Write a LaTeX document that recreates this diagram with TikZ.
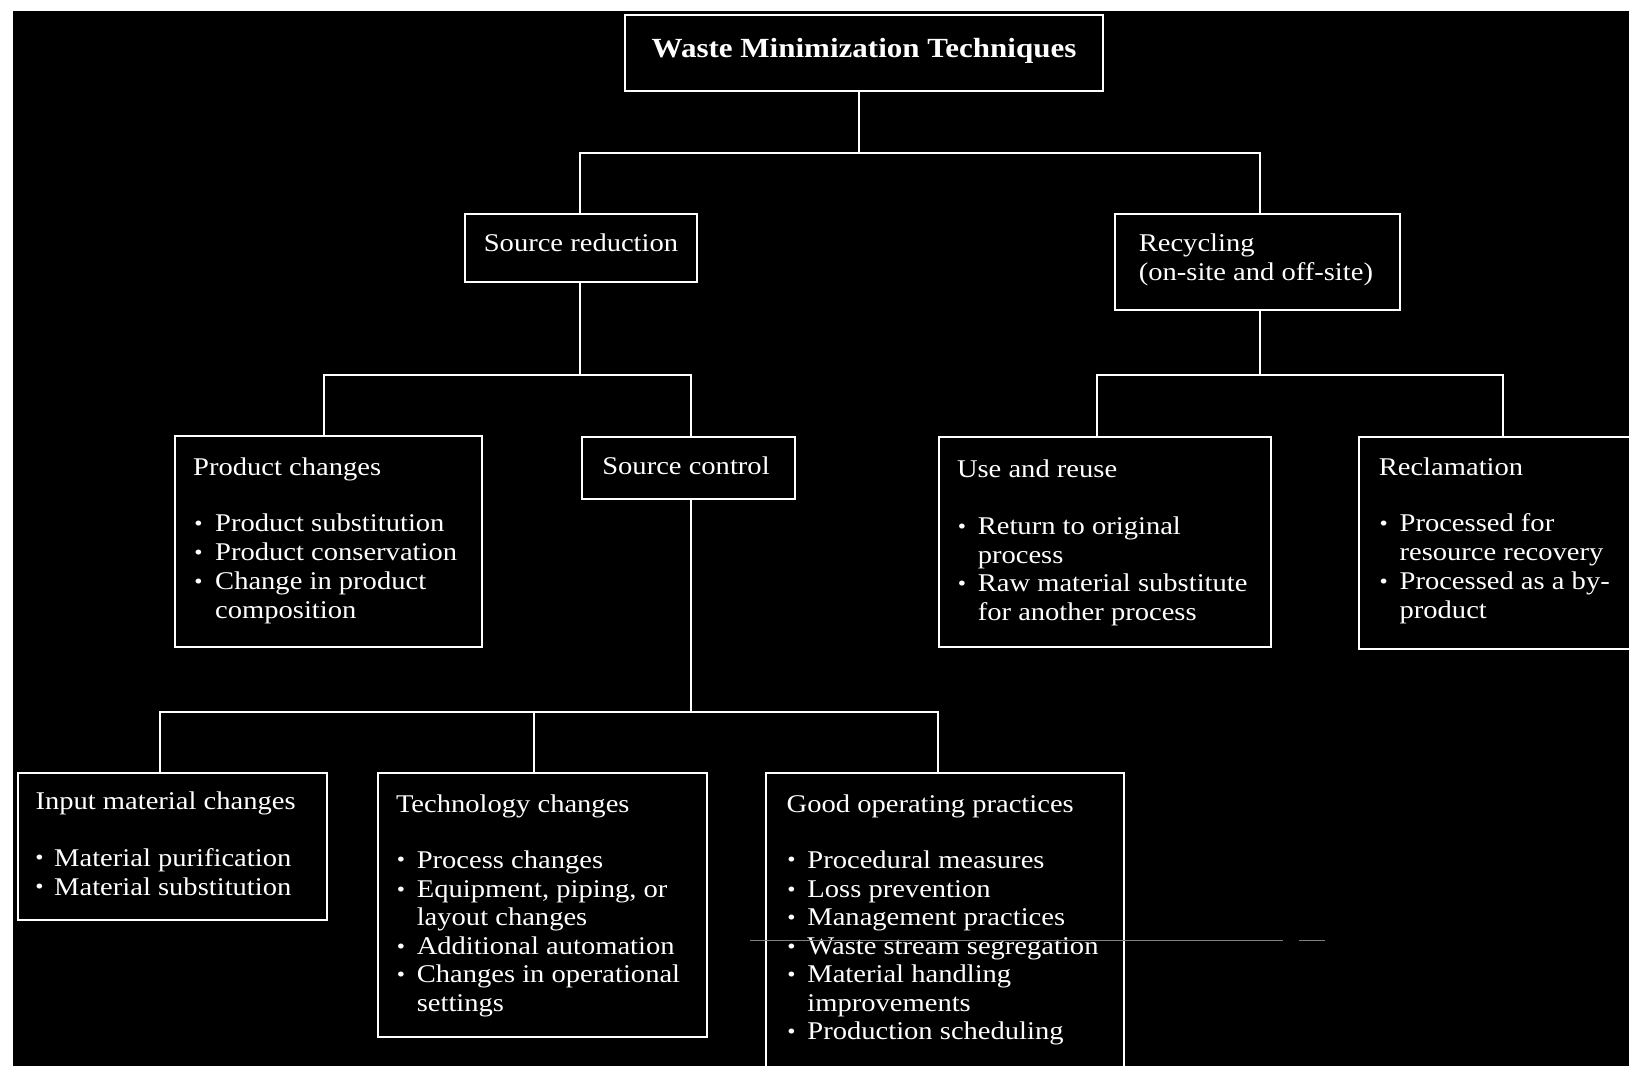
\documentclass[tikz,border=0pt]{standalone}
\usepackage{fontspec}
\setmainfont{Liberation Serif}[FakeStretch=1.12]
\begin{document}
\begin{tikzpicture}[x=1pt,y=-1pt,
  box/.style={draw=white, line width=2pt, fill=black, inner sep=0pt, anchor=north west},
  link/.style={draw=white, line width=2pt},
  lbl/.style={text=white, inner sep=0pt, anchor=west, yshift=-3pt, font=\fontsize{25.5}{29}\selectfont, text height=18pt, text depth=6pt},
  ttl/.style={text=white, inner sep=0pt, anchor=center, yshift=-4pt, font=\fontsize{27.7}{30}\selectfont\bfseries, text height=18pt, text depth=6pt},
  bul/.style={text=white, inner sep=0pt, anchor=center, yshift=-3pt, font=\fontsize{21}{21}\selectfont}]
\clip (0,0) rectangle (1629,1065);
\fill[white] (0,0) rectangle (1629,1065);
\fill[black] (13,11) rectangle (1640,1080);
% boxes
\node[box, minimum width=478pt, minimum height=76pt] (top) at (624,14) {};
\node[box, minimum width=232pt, minimum height=68pt] (sr) at (464,213) {};
\node[box, minimum width=285pt, minimum height=96pt] (rec) at (1114,213) {};
\node[box, minimum width=307pt, minimum height=211pt] (pc) at (174,435) {};
\node[box, minimum width=213pt, minimum height=62pt] (sc) at (581,436) {};
\node[box, minimum width=332pt, minimum height=210pt] (ur) at (938,436) {};
\node[box, minimum width=302pt, minimum height=212pt] (recl) at (1358,436) {};
\node[box, minimum width=309pt, minimum height=147pt] (im) at (17,772) {};
\node[box, minimum width=329pt, minimum height=264pt] (tc) at (377,772) {};
\node[box, minimum width=358pt, minimum height=308pt] (gop) at (765,772) {};
% connectors
\draw[link] ([xshift=-5pt]top.south) -- ++(0,61) -| ([xshift=-1pt]sr.north);
\draw[link] ([xshift=-5pt]top.south) -- ++(0,61) -| ([xshift=2.5pt]rec.north);
\draw[link] ([xshift=-1pt]sr.south) -- ++(0,92) -| ([xshift=-4.5pt]pc.north);
\draw[link] ([xshift=-1pt]sr.south) -- ++(0,92) -| ([xshift=2.5pt]sc.north);
\draw[link] ([xshift=2.5pt]rec.south) -- ++(0,64) -| ([xshift=-8pt]ur.north);
\draw[link] ([xshift=2.5pt]rec.south) -- ++(0,64) -| ([xshift=-7pt]recl.north);
\draw[link] ([xshift=2.5pt]sc.south) -- ++(0,212) -| ([xshift=-12.5pt]im.north);
\draw[link] ([xshift=2.5pt]sc.south) -- ++(0,212) -| ([xshift=-8.5pt]tc.north);
\draw[link] ([xshift=2.5pt]sc.south) -- ++(0,212) -| ([xshift=-7pt]gop.north);
% texts
\node[ttl] (t0) at (864,47) {Waste Minimization Techniques};
\node[lbl, anchor=center] (t1) at (581,242) {Source reduction};
\node[lbl] (t2a) at (1138.6,242) {Recycling};
\node[lbl] (t2b) at (1138.6,271) {(on-site and off-site)};
\node[lbl, anchor=center] (t3) at (686,465) {Source control};
% product changes
\node[lbl] (p0) at (193,466.5) {Product changes};
\foreach \y in {522.6,551.7,580.7} \node[bul] at (198.4,\y) {•};
\node[lbl] (p1) at (215,522.6) {Product substitution};
\node[lbl] (p2) at (215,551.7) {Product conservation};
\node[lbl] (p3) at (215,580.7) {Change in product};
\node[lbl] (p4) at (215,609.8) {composition};
% use and reuse
\node[lbl] (u0) at (956.8,468.5) {Use and reuse};
\foreach \y in {525.7,582.8} \node[bul] at (962,\y) {•};
\node[lbl] (u1) at (977.6,525.7) {Return to original};
\node[lbl] (u2) at (977.6,554.8) {process};
\node[lbl] (u3) at (977.6,582.8) {Raw material substitute};
\node[lbl] (u4) at (977.6,611.9) {for another process};
% reclamation
\node[lbl] (r0) at (1378.6,466.5) {Reclamation};
\foreach \y in {522.6,580.7} \node[bul] at (1383.8,\y) {•};
\node[lbl] (r1) at (1399.4,522.6) {Processed for};
\node[lbl] (r2) at (1399.4,551.7) {resource recovery};
\node[lbl] (r3) at (1399.4,580.7) {Processed as a by-};
\node[lbl] (r4) at (1399.4,609.8) {product};
% input material
\node[lbl] (i0) at (35.3,800) {Input material changes};
\foreach \y in {857,886.2} \node[bul] at (39.5,\y) {•};
\node[lbl] (i1) at (54,857) {Material purification};
\node[lbl] (i2) at (54,886.2) {Material substitution};
% technology
\node[lbl] (c0) at (395.8,803) {Technology changes};
\foreach \y in {859.2,888.3,945.4,973.4} \node[bul] at (401,\y) {•};
\node[lbl] (c1) at (416.6,859.2) {Process changes};
\node[lbl] (c2) at (416.6,888.3) {Equipment, piping, or};
\node[lbl] (c3) at (416.6,916.3) {layout changes};
\node[lbl] (c4) at (416.6,945.4) {Additional automation};
\node[lbl] (c5) at (416.6,973.4) {Changes in operational};
\node[lbl] (c6) at (416.6,1002.5) {settings};
% good operating practices
\node[lbl] (g0) at (786.5,803) {Good operating practices};
\foreach \y in {859.2,888.3,916.3,945.4,973.4,1030.6} \node[bul] at (791.6,\y) {•};
\node[lbl] (g1) at (807.2,859.2) {Procedural measures};
\node[lbl] (g2) at (807.2,888.3) {Loss prevention};
\node[lbl] (g3) at (807.2,916.3) {Management practices};
\node[lbl] (g4) at (807.2,945.4) {Waste stream segregation};
\node[lbl] (g5) at (807.2,973.4) {Material handling};
\node[lbl] (g6) at (807.2,1002.5) {improvements};
\node[lbl] (g7) at (807.2,1030.6) {Production scheduling};
% stray grey rule
\coordinate (d1) at (750,940);
\coordinate (d2) at (1283,940);
\coordinate (d3) at (1299,940);
\coordinate (d4) at (1325,940);
\draw[gray, line width=1pt] (d1) -- (d2);
\draw[gray, line width=1pt] (d3) -- (d4);
\end{tikzpicture}
\end{document}
